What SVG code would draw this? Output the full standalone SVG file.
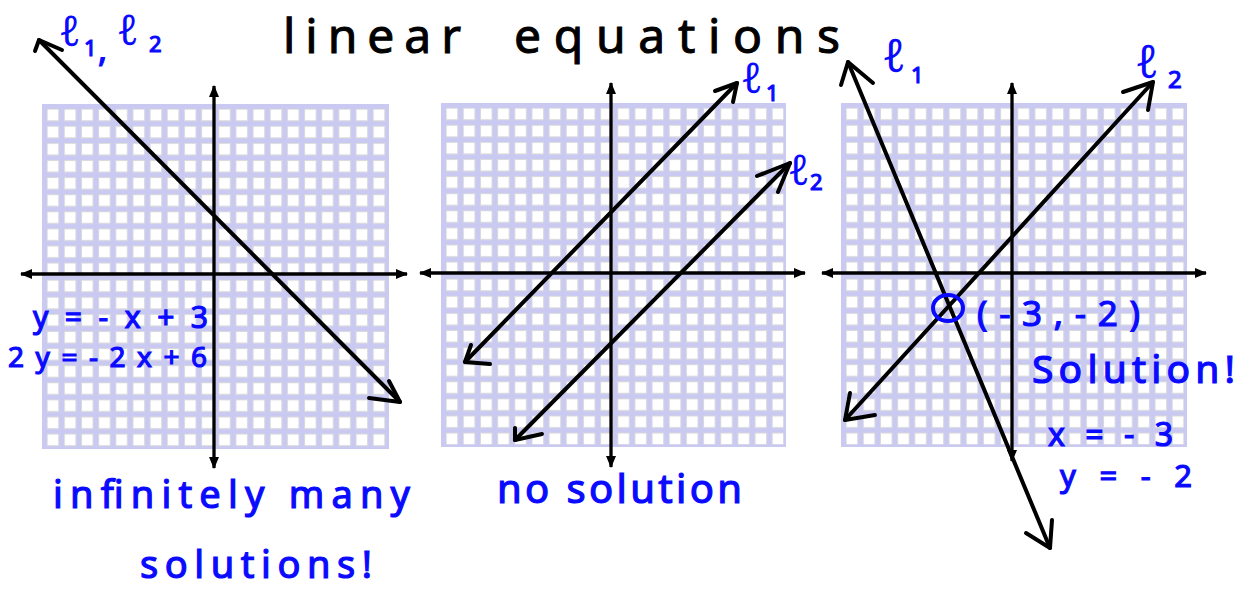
<svg xmlns="http://www.w3.org/2000/svg" width="1242" height="591" viewBox="0 0 1242 591">
<style>
.bg{fill:#c9c9f2}
.axis{stroke:#000;stroke-width:3.3;fill:none}
.ln{stroke:#000;stroke-width:4;fill:none;stroke-linecap:round;stroke-linejoin:round}
.hd{fill:none;stroke:#0a0aff;stroke-width:4}
.t{font-family:"Noto Sans","DejaVu Sans",sans-serif;fill:#0a0aff;stroke:#0a0aff;stroke-width:1.2}
.ell{font-family:"Noto Sans","DejaVu Sans",sans-serif;fill:#0a0aff}
.title{font-family:"Noto Sans","DejaVu Sans",sans-serif;fill:#000;stroke:#000;stroke-width:1}
</style>
<defs>
<pattern id="cells" patternUnits="userSpaceOnUse" x="0" y="0" width="17.16" height="17.1">
<rect x="0.5" y="0.5" width="11.6" height="11.6" fill="#fff" stroke="#dadada" stroke-width="1"/>
</pattern>
<marker id="ah" markerUnits="userSpaceOnUse" viewBox="0 0 12 10" refX="11" refY="5" markerWidth="12" markerHeight="10" orient="auto-start-reverse">
<path d="M0,0 L12,5 L0,10 z" fill="#000"/>
</marker>
</defs>
<rect width="1242" height="591" fill="#fff"/>

<g id="title">
<text class="title" x="283" y="53" font-size="48" textLength="178" lengthAdjust="spacing">linear</text>
<text class="title" x="514" y="53" font-size="48" textLength="326" lengthAdjust="spacing">equations</text>
</g>

<g id="grid-1" transform="translate(46.7,108.7)">
<rect class="bg" x="-4.7" y="-4.7" width="347" height="345"/>
<rect x="-0.1" y="-0.1" width="340" height="338" fill="url(#cells)"/>
</g>
<g id="grid-2" transform="translate(445.7,107.7)">
<rect class="bg" x="-4.7" y="-4.7" width="345" height="344"/>
<rect x="-0.1" y="-0.1" width="338" height="337" fill="url(#cells)"/>
</g>
<g id="grid-3" transform="translate(845.7,107.7)">
<rect class="bg" x="-4.7" y="-4.7" width="346" height="344"/>
<rect x="-0.1" y="-0.1" width="339" height="337" fill="url(#cells)"/>
</g>

<g id="axes">
<path class="axis" d="M214,468 L214,86" marker-end="url(#ah)" marker-start="url(#ah)"/>
<path class="axis" d="M21,274 L407,274" marker-end="url(#ah)" marker-start="url(#ah)"/>
<path class="axis" d="M611,467 L611,83" marker-end="url(#ah)" marker-start="url(#ah)"/>
<path class="axis" d="M420,273 L805,273" marker-end="url(#ah)" marker-start="url(#ah)"/>
<path class="axis" d="M1012,461 L1012,83" marker-end="url(#ah)" marker-start="url(#ah)"/>
<path class="axis" d="M822,273 L1206,273" marker-end="url(#ah)" marker-start="url(#ah)"/>
</g>

<g id="connectors">
<path class="ln" d="M39,40 L400,402"/>
<path class="ln" d="M35,51 L39,40 L62,50"/>
<path class="ln" d="M389,381 L400,402 L369,398"/>

<path class="ln" d="M737,83 L465,362"/>
<path class="ln" d="M715,91 L737,83 L733,102"/>
<path class="ln" d="M471,345 L465,362 L490,364"/>
<path class="ln" d="M790,163 L515,440"/>
<path class="ln" d="M757,176 L790,163 L778,192"/>
<path class="ln" d="M515,428 L515,440 L542,434"/>

<path class="ln" d="M848,62 L1050,548"/>
<path class="ln" d="M841,85 L848,62 L873,83"/>
<path class="ln" d="M1026,533 L1050,548 L1052,520"/>
<path class="ln" d="M1153,82 L845,420"/>
<path class="ln" d="M1123,92 L1153,82 L1148,110"/>
<path class="ln" d="M875,415 L845,420 L850,393"/>
</g>

<g id="labels-1">
<text class="ell" x="59" y="46" font-size="42">ℓ</text>
<text class="t" x="84" y="56" font-size="22">1</text>
<text class="t" x="98" y="62" font-size="34">,</text>
<text class="ell" x="117" y="45" font-size="42">ℓ</text>
<text class="t" x="149" y="52" font-size="22">2</text>
<text class="t" x="33" y="328" font-size="30" textLength="175" lengthAdjust="spacing">y=-x+3</text>
<text class="t" x="8" y="367" font-size="28" textLength="199" lengthAdjust="spacing">2y=-2x+6</text>
<text class="t" x="53" y="508" font-size="38" textLength="357" lengthAdjust="spacing">infinitely many</text>
<text class="t" x="140" y="578" font-size="38" textLength="232" lengthAdjust="spacing">solutions!</text>
</g>

<g id="labels-2">
<text class="ell" x="741" y="93" font-size="42">ℓ</text>
<text class="t" x="766" y="101" font-size="22">1</text>
<text class="ell" x="788" y="185" font-size="42">ℓ</text>
<text class="t" x="810" y="190" font-size="22">2</text>
<text class="t" x="497" y="503" font-size="40" textLength="245" lengthAdjust="spacing">no solution</text>
</g>

<g id="labels-3">
<ellipse class="hd" cx="948" cy="308" rx="15" ry="13"/>
<text class="ell" x="882" y="72" font-size="46">ℓ</text>
<text class="t" x="911" y="83" font-size="22">1</text>
<text class="ell" x="1135" y="78" font-size="46">ℓ</text>
<text class="t" x="1168" y="88" font-size="24">2</text>
<text class="t" x="977" y="326" font-size="35" textLength="163" lengthAdjust="spacing">(-3,-2)</text>
<text class="t" x="1032" y="383" font-size="39" textLength="203" lengthAdjust="spacing">Solution!</text>
<text class="t" x="1048" y="446" font-size="32" textLength="125" lengthAdjust="spacing">x=-3</text>
<text class="t" x="1060" y="487" font-size="31" textLength="132" lengthAdjust="spacing">y=-2</text>
</g>
</svg>
